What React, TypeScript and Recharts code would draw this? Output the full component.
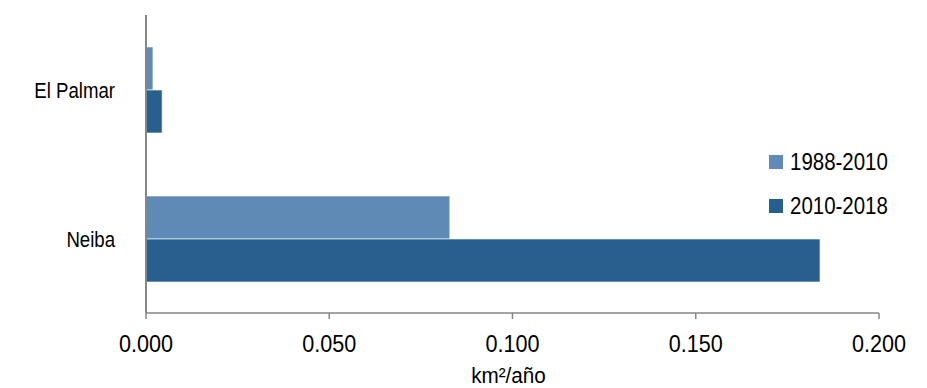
import { BarChart, Bar, XAxis, YAxis, Label } from 'recharts';

const sites = ['El Palmar', 'Neiba'];
const rate1988to2010 = [0.0019, 0.0829];
const rate2010to2018 = [0.0044, 0.1839];
const xTicks = [0, 0.05, 0.1, 0.15, 0.2];

const seriesInfo = [
  { key: 'p1', name: '1988-2010', color: '#5f8ab5' },
  { key: 'p2', name: '2010-2018', color: '#27608f' },
];

const chartData = sites.map((site, i) => ({
  site,
  p1: rate1988to2010[i],
  p2: rate2010to2018[i],
}));

const FONT = "'Liberation Sans', Arial, sans-serif";
const AXIS_GRAY = '#868686';

// narrow-looking text: regular sans squeezed horizontally
function NarrowText({ x, y, anchor, sx, size, children }: any) {
  return (
    <text
      transform={`translate(${x},${y}) scale(${sx},1)`}
      textAnchor={anchor}
      fontFamily={FONT}
      fontSize={size}
      fill="#000"
    >
      {children}
    </text>
  );
}

function SiteTick({ x, y, payload }: any) {
  return (
    <NarrowText x={x - 31} y={y + 8} anchor="end" sx={0.81} size={23}>
      {payload.value}
    </NarrowText>
  );
}

function ValueTick({ x, y, payload }: any) {
  return (
    <NarrowText x={x} y={y + 33} anchor="middle" sx={0.94} size={23}>
      {Number(payload.value).toFixed(3)}
    </NarrowText>
  );
}

function AxisTitle({ viewBox }: any) {
  return (
    <NarrowText x={viewBox.x + viewBox.width / 2 - 4} y={383} anchor="middle" sx={0.94} size={22}>
      km²/año
    </NarrowText>
  );
}

function LegendBox() {
  return (
    <div style={{ position: 'absolute', left: 769, top: 140, fontFamily: FONT, fontSize: 23, color: '#000' }}>
      {seriesInfo.map((s) => (
        <div key={s.key} style={{ display: 'flex', alignItems: 'center', height: 44 }}>
          <span style={{ width: 14, height: 14, background: s.color, marginRight: 7, display: 'inline-block' }} />
          <span style={{ display: 'inline-block', transform: 'scaleX(0.89)', transformOrigin: 'left center' }}>
            {s.name}
          </span>
        </div>
      ))}
    </div>
  );
}

export default function App() {
  return (
    <div style={{ position: 'absolute', left: 0, top: 0, width: 927, height: 388, background: '#fff' }}>
      <BarChart
        width={927}
        height={388}
        data={chartData}
        layout="vertical"
        margin={{ top: 15, right: 48, bottom: 0, left: 0 }}
        barCategoryGap={32}
        barGap={0}
      >
        <XAxis
          type="number"
          domain={[0, 0.2]}
          ticks={xTicks}
          height={75}
          stroke={AXIS_GRAY}
          strokeWidth={1.5}
          tickSize={6}
          tickMargin={0}
          tick={<ValueTick />}
        >
          <Label content={<AxisTitle />} />
        </XAxis>
        <YAxis
          type="category"
          dataKey="site"
          width={146}
          stroke={AXIS_GRAY}
          strokeWidth={2}
          tickLine={false}
          tickSize={0}
          tickMargin={0}
          tick={<SiteTick />}
        />
        {seriesInfo.map((s) => (
          <Bar
            key={s.key}
            dataKey={s.key}
            name={s.name}
            fill={s.color}
            stroke="#ffffff"
            strokeOpacity={0.6}
            strokeWidth={1}
            isAnimationActive={false}
          />
        ))}
      </BarChart>
      <LegendBox />
    </div>
  );
}
